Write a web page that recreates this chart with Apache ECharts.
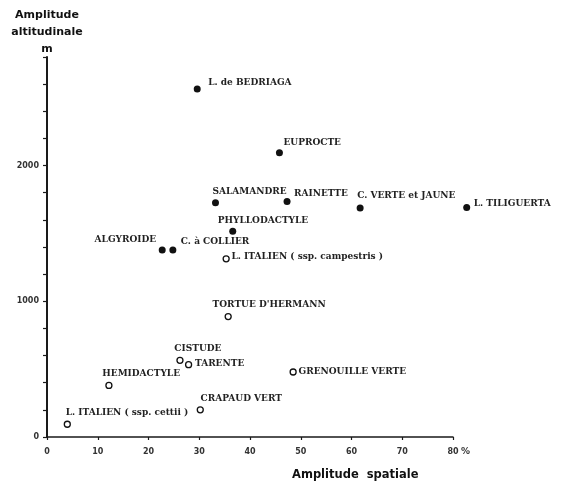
<!DOCTYPE html>
<html>
<head>
<meta charset="utf-8">
<script src="https://cdn.jsdelivr.net/npm/echarts@6/dist/echarts.min.js"></script>
<style>
  html, body { margin: 0; padding: 0; background: #fff; }
  #chart { width: 561px; height: 484px; }
</style>
</head>
<body>
<div id="chart"></div>
<script>
// Species plotted: spatial amplitude (%) against altitudinal amplitude (m)
const species = [
  "L. de BEDRIAGA", "EUPROCTE", "SALAMANDRE", "RAINETTE", "C. VERTE et JAUNE",
  "L. TILIGUERTA", "PHYLLODACTYLE", "ALGYROIDE", "C. à COLLIER",
  "L. ITALIEN ( ssp. campestris )", "TORTUE D'HERMANN", "CISTUDE", "TARENTE",
  "GRENOUILLE VERTE", "HEMIDACTYLE", "CRAPAUD VERT", "L. ITALIEN ( ssp. cettii )"
];
const spatialAmplitude = [29.6, 45.8, 33.2, 47.3, 61.7, 82.7, 36.6, 22.7, 24.8, 35.3, 35.7, 26.2, 27.9, 48.5, 12.2, 30.2, 4.0];
const altitudinalAmplitude = [2565, 2094, 1726, 1736, 1687, 1691, 1516, 1378, 1378, 1313, 887, 565, 533, 479, 380, 200, 94];
// true = filled marker, false = open marker
const filledMarker = [true, true, true, true, true, true, true, true, true, false, false, false, false, false, false, false, false];

const xTicks = { min: 0, max: 80, step: 10 };
const yTicks = { min: 0, max: 2800, step: 200, labelled: [0, 1000, 2000] };

// Label placement next to each marker: [dx, dy, align]
const labelPlacement = {
  "L. de BEDRIAGA": [11, -6, "left"],
  "EUPROCTE": [4, -10, "left"],
  "SALAMANDRE": [-3, -11, "left"],
  "RAINETTE": [7, -8, "left"],
  "C. VERTE et JAUNE": [-3, -12, "left"],
  "L. TILIGUERTA": [7, -4, "left"],
  "PHYLLODACTYLE": [-15, -11, "left"],
  "ALGYROIDE": [-6, -10, "right"],
  "C. à COLLIER": [8, -8, "left"],
  "L. ITALIEN ( ssp. campestris )": [6, -2, "left"],
  "TORTUE D'HERMANN": [-15, -11, "left"],
  "CISTUDE": [-5, -11, "left"],
  "TARENTE": [7, 0, "left"],
  "GRENOUILLE VERTE": [6, 0, "left"],
  "HEMIDACTYLE": [-6, -11, "left"],
  "CRAPAUD VERT": [1, -11, "left"],
  "L. ITALIEN ( ssp. cettii )": [-1, -11, "left"]
};

const INK = "#1a1a1a";
const labelFont = { fontFamily: "DejaVu Serif", fontSize: 9, fontWeight: "bold", color: "#222" };

function buildPoints(filled, size) {
  const pts = [];
  species.forEach((name, i) => {
    if (filledMarker[i] !== filled) return;
    const p = labelPlacement[name] || [6, 0, "left"];
    pts.push({
      name: name,
      value: [spatialAmplitude[i], altitudinalAmplitude[i]],
      label: {
        show: true,
        formatter: name,
        position: [size / 2 + p[0], size / 2 + p[1]],
        align: p[2],
        verticalAlign: "middle",
        ...labelFont
      }
    });
  });
  return pts;
}

const chart = echarts.init(document.getElementById("chart"), null, { renderer: "canvas" });

chart.setOption({
  animation: false,
  backgroundColor: "#fff",
  grid: { left: 47, right: 108, top: 57, bottom: 47, containLabel: false },
  xAxis: {
    type: "value",
    min: xTicks.min, max: xTicks.max, interval: xTicks.step,
    axisLine: { show: true, onZero: false, lineStyle: { color: INK, width: 1.5 } },
    axisTick: { show: true, inside: false, length: 3, lineStyle: { color: INK, width: 1.2 } },
    axisLabel: {
      margin: 11, fontFamily: "DejaVu Sans", fontSize: 8, fontWeight: "bold", color: "#333",
      showMaxLabel: true, showMinLabel: true
    },
    splitLine: { show: false }
  },
  yAxis: {
    type: "value",
    min: yTicks.min, max: yTicks.max, interval: yTicks.step,
    name: "Amplitude\naltitudinale\nm",
    nameLocation: "end",
    nameGap: -1,
    nameTextStyle: {
      fontFamily: "DejaVu Sans", fontSize: 11, fontWeight: "bold", color: "#111",
      lineHeight: 17, align: "center", verticalAlign: "bottom"
    },
    axisLine: { show: true, onZero: false, lineStyle: { color: INK, width: 2 } },
    axisTick: { show: true, inside: false, length: 4, lineStyle: { color: INK, width: 1.2 } },
    axisLabel: {
      margin: 8, fontFamily: "DejaVu Sans", fontSize: 8, fontWeight: "bold", color: "#333",
      formatter: v => (yTicks.labelled.indexOf(v) >= 0 ? String(v) : "")
    },
    splitLine: { show: false }
  },
  series: [
    {
      type: "scatter",
      clip: false,
      symbol: "circle",
      symbolSize: 7,
      itemStyle: { color: "#111", opacity: 1 },
      data: buildPoints(true, 7),
      labelLayout: { hideOverlap: false }
    },
    {
      type: "scatter",
      clip: false,
      symbol: "circle",
      symbolSize: 6,
      itemStyle: { color: "#fff", borderColor: "#111", borderWidth: 1.3, opacity: 1 },
      data: buildPoints(false, 6),
      labelLayout: { hideOverlap: false }
    }
  ],
  graphic: [
    {
      type: "text",
      left: 461, top: 447,
      style: { text: "%", fontFamily: "DejaVu Sans", fontSize: 9, fontWeight: "bold", fill: "#333" }
    },
    {
      type: "text",
      left: 292, top: 469,
      style: { text: "Amplitude  spatiale", fontFamily: "DejaVu Sans", fontSize: 11.5, fontWeight: "bold", fill: "#111" }
    }
  ]
});
</script>
</body>
</html>
